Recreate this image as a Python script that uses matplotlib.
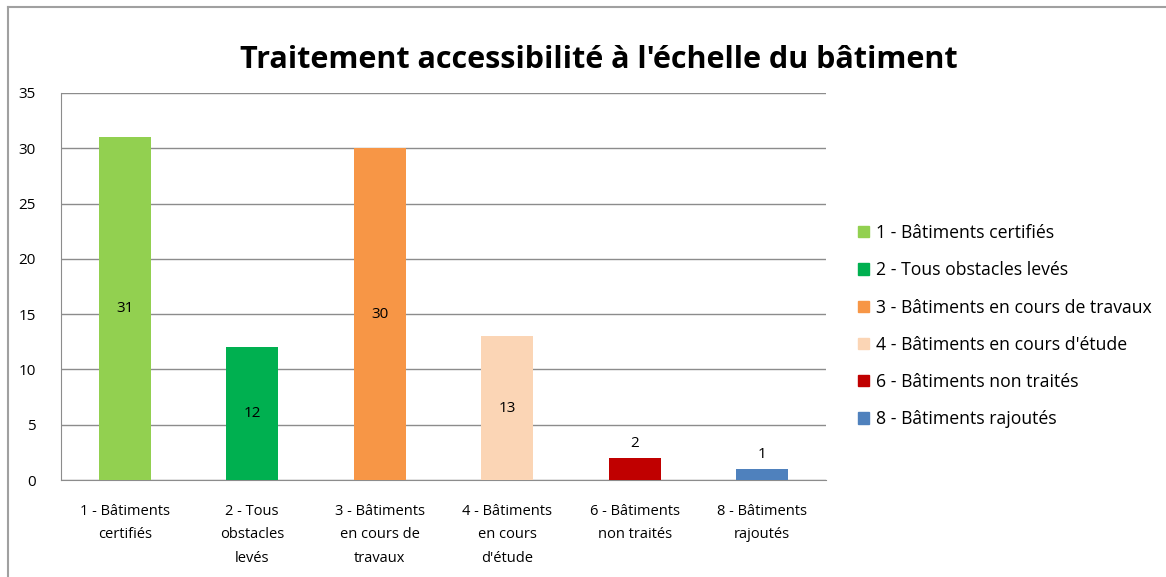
import matplotlib
matplotlib.use("Agg")
import matplotlib.pyplot as plt
from matplotlib.patches import Rectangle
from matplotlib.lines import Line2D

categories = ["1 - Bâtiments\ncertifiés", "2 - Tous\nobstacles\nlevés", "3 - Bâtiments\nen cours de\ntravaux",
              "4 - Bâtiments\nen cours\nd'étude", "6 - Bâtiments\nnon traités", "8 - Bâtiments\nrajoutés"]
legend_labels = ["1 - Bâtiments certifiés", "2 - Tous obstacles levés", "3 - Bâtiments en cours de travaux",
                 "4 - Bâtiments en cours d'étude", "6 - Bâtiments non traités", "8 - Bâtiments rajoutés"]
values = [31, 12, 30, 13, 2, 1]
colors = ["#92D050", "#00B050", "#F79646", "#FBD5B5", "#C00000", "#4F81BD"]
yticks = [0, 5, 10, 15, 20, 25, 30, 35]

plt.rcParams['font.family'] = ['Open Sans', 'DejaVu Sans']

W, H = 1166, 577
fig = plt.figure(figsize=(W / 100, H / 100), dpi=100)
ax = fig.add_axes([61 / W, 1 - 480 / H, (826 - 61) / W, (480 - 93) / H])

x = list(range(len(values)))
bars = ax.bar(x, values, width=0.41, color=colors, zorder=3)
for xi, v in zip(x, values):
    if v >= 5:
        ax.text(xi, v / 2, str(v), ha='center', va='center', fontsize=11, zorder=4)
    else:
        ax.text(xi, v + 0.6, str(v), ha='center', va='bottom', fontsize=11, zorder=4)

ax.set_xlim(-0.5, len(values) - 0.5)
ax.set_ylim(0, 35)
ax.set_yticks(yticks)
ax.set_yticklabels([str(t) for t in yticks], fontsize=11)
ax.yaxis.grid(True, color='#8c8c8c', linewidth=1, zorder=0)
ax.set_xticks(x)
ax.set_xticklabels(categories, fontsize=10.5, linespacing=1.8)
ax.tick_params(axis='x', length=0, pad=17)
ax.tick_params(axis='y', length=0, pad=18)
for s in ['top', 'right']:
    ax.spines[s].set_visible(False)
ax.spines['left'].set_color('#8c8c8c')
ax.spines['bottom'].set_color('#8c8c8c')

fig.text(599 / W, 1 - 60 / H, "Traitement accessibilité à l'échelle du bâtiment",
         ha='center', va='center', fontsize=22, fontweight='bold')

handles = [Rectangle((0, 0), 1, 1, color=c) for c in colors]
fig.legend(handles, legend_labels, loc='upper left', bbox_to_anchor=(851 / W, 1 - 217 / H),
           frameon=False, fontsize=12.7, handlelength=0.6, handleheight=0.6,
           handletextpad=0.4, labelspacing=1.09, borderaxespad=0)

fig.add_artist(Line2D([8 / W, 8 / W], [0, 1 - 7 / H], transform=fig.transFigure,
                      color='#a0a0a0', linewidth=1.5))
fig.add_artist(Line2D([8 / W, 1], [1 - 7 / H, 1 - 7 / H], transform=fig.transFigure,
                      color='#a0a0a0', linewidth=1.5))

fig.savefig("out.png", dpi=100)
